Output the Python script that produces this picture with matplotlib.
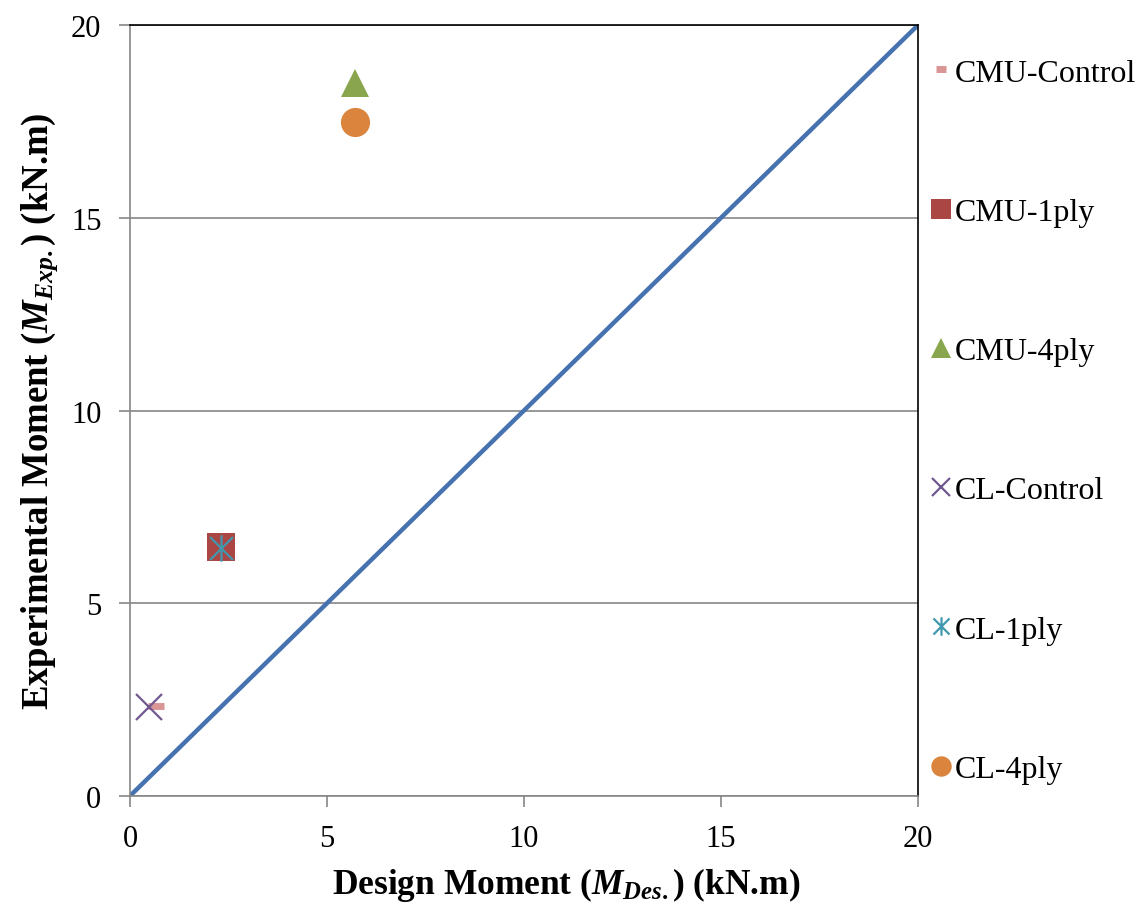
import matplotlib
matplotlib.use('Agg')
import matplotlib.pyplot as plt
from matplotlib.path import Path

# data (kN.m)
series_names = ['CMU-Control', 'CMU-1ply', 'CMU-4ply', 'CL-Control', 'CL-1ply', 'CL-4ply']
design_moment = [0.66, 2.30, 5.71, 0.49, 2.30, 5.71]
exp_moment = [2.34, 6.47, 18.50, 2.30, 6.42, 17.48]
ref_line_x = [0, 20]
ref_line_y = [0, 20]
ticks = [0, 5, 10, 15, 20]

plt.rcParams['font.family'] = ['Liberation Serif', 'DejaVu Serif']
plt.rcParams['mathtext.fontset'] = 'custom'
plt.rcParams['mathtext.it'] = 'Liberation Serif:italic:bold'
plt.rcParams['mathtext.rm'] = 'Liberation Serif:bold'
plt.rcParams['mathtext.bf'] = 'Liberation Serif:bold'

# excel-like star marker: X plus vertical bar
star = Path([(-1, -1), (1, 1), (-1, 1), (1, -1), (0, -1.15), (0, 1.15)],
            [Path.MOVETO, Path.LINETO, Path.MOVETO, Path.LINETO, Path.MOVETO, Path.LINETO])

styles = [
    dict(marker='_', color='#D99694', ms=11, mew=5),
    dict(marker='s', color='#AA4643', ms=20, mew=0),
    dict(marker='^', color='#89A54E', ms=20, mew=0),
    dict(marker='x', color='#71588F', ms=19, mew=1.6),
    dict(marker=star, color='#4198AF', ms=19, mew=1.6),
    dict(marker='o', color='#DB843D', ms=21, mew=0),
]

fig = plt.figure(figsize=(11.41, 9.04), dpi=100)
ax = fig.add_axes([0.1139, 0.1184, 0.6907, 0.8528])

ax.plot(ref_line_x, ref_line_y, color='#4672B0', lw=3.2, zorder=2)

for name, x, y, st in zip(series_names, design_moment, exp_moment, styles):
    ax.plot([x], [y], linestyle='none', marker=st['marker'], color=st['color'],
            markersize=st['ms'], markeredgewidth=st['mew'], label=name, zorder=3)

ax.set_xlim(0, 20)
ax.set_ylim(0, 20)
ax.set_xticks(ticks)
ax.set_yticks(ticks)
ax.yaxis.grid(True, color='#868686', lw=1.2)
ax.set_axisbelow(True)
ax.tick_params(direction='out', length=8, width=1.2, color='#868686', labelsize=22, pad=12.5)

for side in ['left', 'bottom']:
    ax.spines[side].set_color('#868686')
    ax.spines[side].set_linewidth(1.2)
for side in ['top', 'right']:
    ax.spines[side].set_color('black')
    ax.spines[side].set_linewidth(1.2)

ax.set_xlabel(r'Design Moment ($M_{Des.}$) (kN.m)', fontsize=25.5, fontweight='bold',
              labelpad=8, x=0.553)
ax.set_ylabel(r'Experimental Moment ($M_{Exp.}$) (kN.m)', fontsize=26.5, fontweight='bold',
              labelpad=8)

fig.legend(loc='center left', bbox_to_anchor=(0.817, 0.5332), frameon=False,
           fontsize=23, markerscale=0.7, labelspacing=3.44, handlelength=0.55,
           handletextpad=0.15, borderpad=0, borderaxespad=0)

fig.savefig('out.png', dpi=100)
